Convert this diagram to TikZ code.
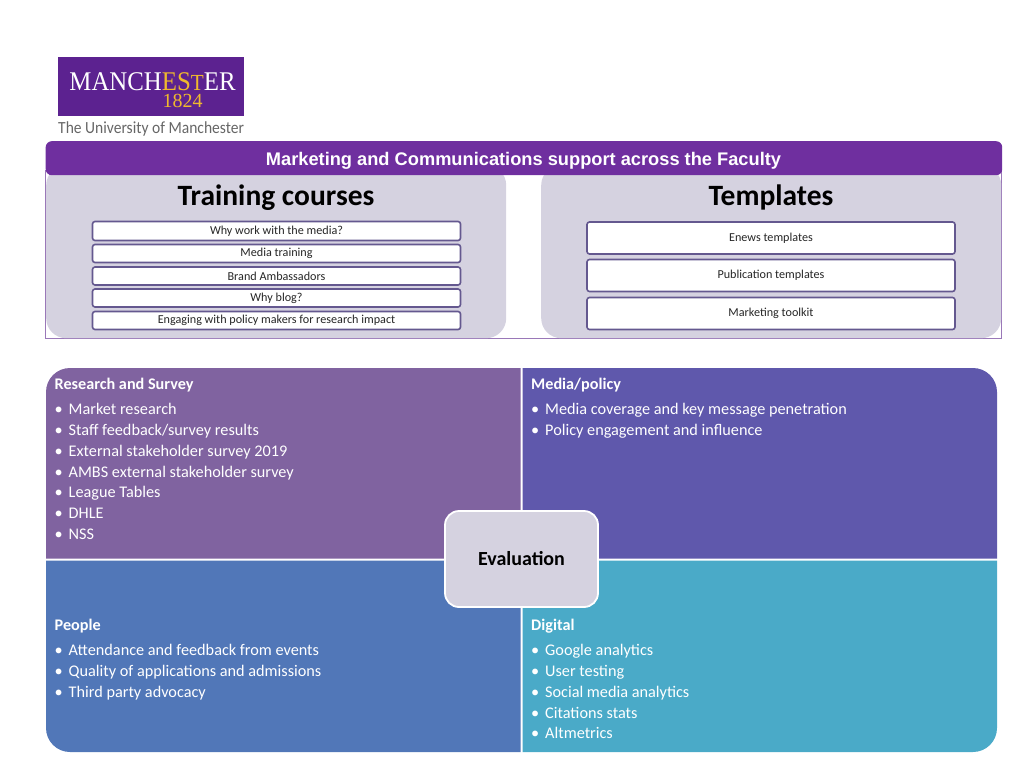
\documentclass[tikz,border=0pt]{standalone}
\usepackage{fontspec}
\setmainfont{Carlito}
\newfontfamily\arialf{Liberation Sans}
\newfontfamily\timesf{Liberation Serif}
\definecolor{hdr}{HTML}{6F2F9F}
\definecolor{panel}{HTML}{D5D2E0}
\definecolor{edge}{HTML}{64588F}
\definecolor{outline}{HTML}{9A78B8}
\definecolor{logo}{HTML}{5C2290}
\definecolor{gold}{HTML}{F0B92D}
\definecolor{qa}{HTML}{8063A0}
\definecolor{qb}{HTML}{5F58AC}
\definecolor{qc}{HTML}{5177B8}
\definecolor{qd}{HTML}{4AAAC8}
\newcommand{\fs}[1]{\fontsize{#1}{#1}\selectfont}
\newcommand{\bul}[1]{\makebox[13.5pt][l]{\hspace{-0.6pt}•}#1}
\newcommand{\lw}[1]{\raisebox{-0.9pt}{#1}}
\tikzset{
  panelbox/.style={fill=panel,rounded corners=20pt},
  itembox/.style={draw=edge,line width=1.6pt,fill=white,rounded corners=2.5pt,minimum width=368pt,inner sep=0pt,font=\fs{12.15},text=black!85},
  coursetitle/.style={font=\fs{29.5}\bfseries,inner sep=0pt,text=black},
  qhead/.style={anchor=base west,inner sep=0pt,text=white,font=\fs{16.2}\bfseries},
  qitem/.style={anchor=base west,inner sep=0pt,text=white,font=\fs{16.25}},
}
\begin{document}
\begin{tikzpicture}[x=1pt,y=-1pt]
\useasboundingbox (0,0) rectangle (1024,768);
% logo
\node[fill=logo,minimum width=186pt,minimum height=59pt,inner sep=0pt,anchor=north west] (logobox) at (58,57) {};
\node[anchor=base,inner sep=0pt,text=white] (logoname) at (152.5,90) {\scalebox{0.92}[1]{\timesf\fs{27}MANCH\textcolor{gold}{ES{\fs{23}T}}ER}};
\node[anchor=base,inner sep=0pt,text=gold] (logoyear) at (182.5,107) {\timesf\fs{20}1824};
\node[anchor=base west,inner sep=0pt,text=black!60] (logotext) at (58,133) {\scalebox{0.915}[1]{\fs{17}The University of Manchester}};
% frame
\draw[outline,line width=0.8pt] (45.5,170) rectangle (1001.5,338.8);
% panels
\node[panelbox,minimum width=460pt,minimum height=173pt,inner sep=0pt,anchor=north west] (leftpanel) at (46,165) {};
\node[panelbox,minimum width=460pt,minimum height=173pt,inner sep=0pt,anchor=north west] (rightpanel) at (541,165) {};
% header
\node[fill=hdr,rounded corners=6pt,minimum width=956.5pt,minimum height=34pt,inner sep=0pt,anchor=north west] (header) at (45.5,141) {};
\node[anchor=base,inner sep=0pt,text=white] (headertext) at (523.5,165) {\arialf\bfseries\fs{18.25}Marketing and Communications support across the Faculty};
\node[coursetitle,anchor=base] (tctitle) at (276,205.5) {Training courses};
\node[coursetitle,anchor=base] (tptitle) at (771,205.5) {Templates};
% left items
\node[itembox,minimum height=19pt] (c1) at (276.5,231) {\lw{Why work with the media?}};
\node[itembox,minimum height=18pt] (c2) at (276.5,253.5) {\lw{Media training}};
\node[itembox,minimum height=18pt] (c3) at (276.5,276) {\lw{Brand Ambassadors}};
\node[itembox,minimum height=18pt] (c4) at (276.5,298) {\lw{Why blog?}};
\node[itembox,minimum height=18pt] (c5) at (276.5,320.5) {\lw{Engaging with policy makers for research impact}};
% right items
\node[itembox,minimum height=32pt] (t1) at (771,238) {\lw{Enews templates}};
\node[itembox,minimum height=32pt] (t2) at (771,275.5) {\lw{Publication templates}};
\node[itembox,minimum height=32pt] (t3) at (771,313.5) {\lw{Marketing toolkit}};
% quadrants
\fill[qa] (46,558.5) [rounded corners=24pt] -- (46,368) [sharp corners] -- (520.5,368) -- (520.5,558.5) -- cycle;
\fill[qb] (522.5,558.5) -- (522.5,368) [rounded corners=24pt] -- (997,368) [sharp corners] -- (997,558.5) -- cycle;
\fill[qc] (46,560.5) -- (520.5,560.5) -- (520.5,752) [rounded corners=24pt] -- (46,752) [sharp corners] -- cycle;
\fill[qd] (522.5,560.5) -- (997,560.5) [rounded corners=24pt] -- (997,752) [sharp corners] -- (522.5,752) -- cycle;
% research
\node[qhead] (rh) at (54.5,389.5) {Research and Survey};
\node[qitem] (r1) at (55,414) {\bul{Market research}};
\node[qitem] (r2) at (55,435) {\bul{Staff feedback/survey results}};
\node[qitem] (r3) at (55,456) {\bul{External stakeholder survey 2019}};
\node[qitem] (r4) at (55,477) {\bul{AMBS external stakeholder survey}};
\node[qitem] (r5) at (55,497.5) {\bul{League Tables}};
\node[qitem] (r6) at (55,518) {\bul{DHLE}};
\node[qitem] (r7) at (55,539) {\bul{NSS}};
% media
\node[qhead] (mh) at (531,389.5) {Media/policy};
\node[qitem] (m1) at (531.5,414) {\bul{Media coverage and key message penetration}};
\node[qitem] (m2) at (531.5,435) {\bul{Policy engagement and influence}};
% people
\node[qhead] (ph) at (54.5,630.5) {People};
\node[qitem] (p1) at (55,655) {\bul{Attendance and feedback from events}};
\node[qitem] (p2) at (55,676) {\bul{Quality of applications and admissions}};
\node[qitem] (p3) at (55,697) {\bul{Third party advocacy}};
% digital
\node[qhead] (dh) at (531,630.5) {Digital};
\node[qitem] (d1) at (531.5,655) {\bul{Google analytics}};
\node[qitem] (d2) at (531.5,676) {\bul{User testing}};
\node[qitem] (d3) at (531.5,697) {\bul{Social media analytics}};
\node[qitem] (d4) at (531.5,718) {\bul{Citations stats}};
\node[qitem] (d5) at (531.5,738.5) {\bul{Altmetrics}};
% centre
\node[draw=white,line width=1.8pt,fill=panel,rounded corners=14pt,minimum width=153pt,minimum height=96pt,inner sep=0pt,font=\fs{20}\bfseries,text=black] (eval) at (521.5,559) {Evaluation};
\end{tikzpicture}
\end{document}
